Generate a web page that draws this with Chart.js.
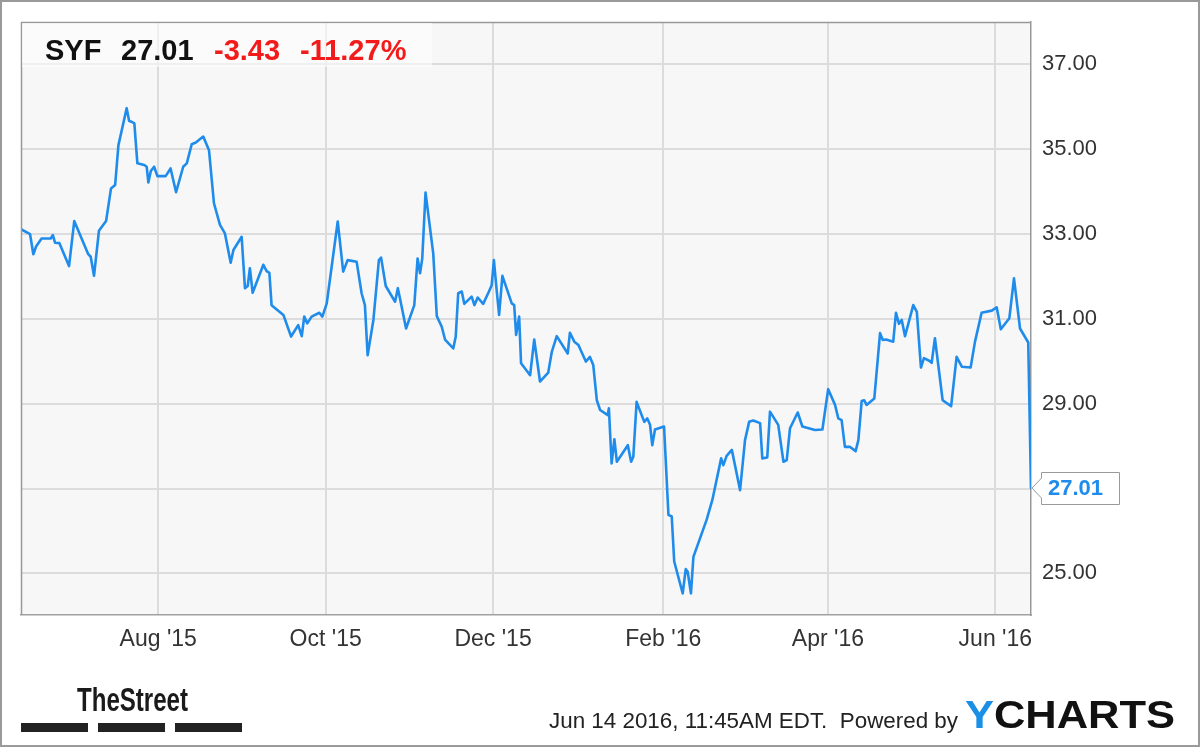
<!DOCTYPE html>
<html><head><meta charset="utf-8">
<script src="https://cdn.jsdelivr.net/npm/chart.js@4.4.0/dist/chart.umd.min.js"></script>
<style>html,body{margin:0;padding:0;background:#fff;overflow:hidden}canvas{display:block}</style>
</head><body>
<canvas id="c" width="1200" height="747"></canvas>
<script>
const ticker = 'SYF';
const lastPrice = 27.01;
const change = -3.43;
const changePct = -11.27;
const stampText = 'Jun 14 2016, 11:45AM EDT.  Powered by';
// trading-day positions, in days since 2015-06-12
const days = [0,3.3,4.5,5.5,7.5,10.8,11.6,12.4,14.0,17.5,19.4,24.5,25.4,26.6,28.4,31.0,32.8,34.3,35.5,38.5,39.4,40.3,41.3,42.4,44.9,45.8,46.4,47.3,48.5,49.7,52.7,54.5,56.5,59.1,60.4,62.2,63.7,66.4,68.5,70.3,72.5,74.3,76.4,77.4,80.4,81.6,82.6,83.4,84.4,88.3,89.5,90.5,91.3,95.6,98.4,101.0,102.3,103.2,104.3,105.9,108.7,109.8,111.4,115.4,117.4,119.0,122.3,124.1,125.3,126.3,128.4,130.4,131.2,132.9,136.3,137.3,138.2,140.3,143.3,144.5,145.4,146.2,147.4,150.2,151.5,153.3,154.5,157.5,158.4,159.3,160.6,161.5,164.2,165.2,166.4,168.4,170.5,171.5,172.3,173.3,174.2,175.4,178.8,179.7,180.4,181.5,182.2,185.5,187.0,189.1,192.1,193.4,195.2,199.2,200.0,201.6,203.1,205.8,207.3,208.5,209.8,211.0,213.8,214.2,215.2,216.2,217.1,221.1,222.3,223.1,224.3,227.1,228.2,229.2,230.0,231.0,234.3,235.9,237.1,238.0,241.1,242.2,242.9,244.1,245.0,249.8,251.9,255.1,255.9,257.1,259.0,262.0,263.8,265.3,266.8,269.3,270.1,271.9,272.9,275.9,277.8,279.0,280.2,283.0,284.7,289.3,292.0,294.1,296.6,297.8,299.0,300.2,302.1,304.1,305.1,306.3,307.2,308.1,310.9,313.0,314.0,315.2,317.8,318.8,319.9,320.9,322.1,325.1,326.4,327.9,329.0,330.9,331.8,333.0,335.8,338.9,340.9,342.8,346.0,347.6,350.0,353.7,355.5,357.0,360.1,361.8,364.0,367.0,368.0];
const prices = [33.11,32.99,32.52,32.70,32.89,32.89,32.97,32.79,32.78,32.24,33.30,32.52,32.46,32.01,33.07,33.30,34.07,34.15,35.09,35.96,35.66,35.64,35.60,34.66,34.62,34.58,34.21,34.48,34.58,34.36,34.36,34.54,33.98,34.58,34.66,35.11,35.15,35.29,34.97,33.72,33.21,33.01,32.32,32.62,32.93,31.72,31.77,32.19,31.61,32.27,32.12,32.08,31.32,31.09,30.58,30.85,30.59,31.05,30.89,31.05,31.14,31.05,31.36,33.29,32.11,32.38,32.34,31.60,31.32,30.14,30.97,32.38,32.44,31.77,31.40,31.72,31.44,30.77,31.32,32.42,32.07,32.42,33.97,32.54,31.06,30.81,30.51,30.30,30.58,31.60,31.64,31.35,31.52,31.32,31.50,31.35,31.64,31.79,32.38,31.68,31.09,32.01,31.36,31.32,30.62,31.05,29.95,29.67,30.51,29.52,29.73,30.22,30.59,30.18,30.67,30.46,30.38,29.99,30.10,29.91,29.08,28.85,28.73,28.89,27.59,28.16,27.63,28.02,27.63,27.75,29.04,28.57,28.65,28.50,28.02,28.39,28.46,26.38,26.34,25.28,24.53,25.10,25.04,24.53,25.39,26.26,26.73,27.71,27.55,27.77,27.91,26.96,28.14,28.57,28.60,28.54,27.71,27.73,28.81,28.50,27.63,27.67,28.42,28.79,28.46,28.38,28.39,29.34,28.97,28.65,28.61,27.98,27.98,27.88,28.14,29.06,29.08,28.97,29.12,30.66,30.50,30.51,30.46,31.14,30.88,30.97,30.59,31.32,31.16,29.85,30.07,30.01,29.96,30.54,29.08,28.94,30.10,29.87,29.85,30.46,31.14,31.19,31.27,30.75,31.01,31.95,30.77,30.44,27.01];
const monthTickDays = [50,111,172,234,294,355];
const monthTickLabels = ["Aug '15","Oct '15","Dec '15","Feb '16","Apr '16","Jun '16"];
const priceTicks = [25,27,29,31,33,35,37];

const FONT = "'Liberation Sans', Arial, Helvetica, sans-serif";
const LINE = '#1f8ceb';

const bgPlugin = {
  id:'bg',
  beforeDraw(chart){
    const c = chart.ctx, a = chart.chartArea;
    c.save();
    c.fillStyle = '#fff'; c.fillRect(0,0,chart.width,chart.height);
    c.fillStyle = '#f7f7f7'; c.fillRect(a.left,a.top,a.right-a.left,a.bottom-a.top);
    c.restore();
  }
};

const decorPlugin = {
  id:'decor',
  afterDraw(chart){
    const c = chart.ctx, a = chart.chartArea, ys = chart.scales.y;
    c.save();
    // plot frame left/top
    c.strokeStyle = '#999'; c.lineWidth = 1.5;
    c.beginPath();
    c.moveTo(a.left+0.5, a.bottom); c.lineTo(a.left+0.5, a.top+0.5); c.lineTo(a.right, a.top+0.5);
    c.stroke();
    // header box
    c.fillStyle = 'rgba(255,255,255,0.55)';
    c.fillRect(a.left+1, a.top+1, 410, 44);
    c.textBaseline = 'alphabetic'; c.textAlign = 'left';
    c.font = 'bold 29px ' + FONT;
    c.fillStyle = '#111';
    c.fillText(ticker, 45, 60);
    c.fillText(lastPrice.toFixed(2), 121, 60);
    c.fillStyle = '#f21b1b';
    c.fillText(change.toFixed(2), 214, 60);
    c.fillText(changePct.toFixed(2) + '%', 300, 60);
    // last price marker
    const py = ys.getPixelForValue(lastPrice);
    const bx = 1041.5, bw = 78, bh = 32, by = Math.round(py) - 16 + 0.5;
    c.beginPath();
    c.moveTo(bx, by);
    c.lineTo(bx+bw, by); c.lineTo(bx+bw, by+bh); c.lineTo(bx, by+bh);
    c.lineTo(bx, py+10); c.lineTo(a.right+1, py); c.lineTo(bx, py-10); c.closePath();
    c.fillStyle = '#fff'; c.fill();
    c.strokeStyle = '#9a9a9a'; c.lineWidth = 1; c.stroke();
    c.font = 'bold 22px ' + FONT;
    c.fillStyle = LINE; c.textBaseline = 'middle';
    c.fillText(lastPrice.toFixed(2), 1048, py+1);
    // footer: TheStreet
    c.textBaseline = 'alphabetic';
    c.fillStyle = '#1a1a1a';
    c.save();
    c.font = 'bold 34px ' + FONT;
    const tw = c.measureText('TheStreet').width;
    c.translate(77, 711); c.scale(111/tw, 1);
    c.fillText('TheStreet', 0, 0);
    c.restore();
    c.fillStyle = '#222';
    c.fillRect(21, 723, 67, 9); c.fillRect(98, 723, 67, 9); c.fillRect(175, 723, 67, 9);
    // footer stamp
    c.save();
    c.font = '22px ' + FONT; c.fillStyle = '#222'; c.textAlign = 'left';
    const sw = c.measureText(stampText).width;
    c.translate(549, 728); c.scale(409/sw, 1);
    c.fillText(stampText, 0, 0);
    c.restore();
    // YCHARTS
    c.textAlign = 'left';
    c.save();
    c.font = 'bold 39px ' + FONT;
    const w1 = c.measureText('Y').width, w2 = c.measureText('CHARTS').width;
    c.translate(965, 728); c.scale(210/(w1+w2), 1);
    c.fillStyle = '#1a8fe6'; c.fillText('Y', 0, 0);
    c.fillStyle = '#111'; c.fillText('CHARTS', w1, 0);
    c.restore();
    // outer frame
    c.strokeStyle = '#9a9a9a'; c.lineWidth = 2;
    c.strokeRect(1, 1, chart.width-2, chart.height-2);
    c.restore();
  }
};

new Chart(document.getElementById('c').getContext('2d'), {
  type: 'line',
  data: { datasets: [{
    data: days.map((d,i)=>({x:d, y:prices[i]})),
    borderColor: LINE, borderWidth: 2.6, pointRadius: 0, tension: 0, fill: false,
    borderJoinStyle: 'round', borderCapStyle: 'round'
  }]},
  options: {
    responsive: false, animation: false, devicePixelRatio: 1,
    layout: { padding: { left: 21, top: 22, right: 0, bottom: 0 } },
    plugins: { legend: { display: false }, tooltip: { enabled: false } },
    scales: {
      x: {
        type: 'linear', min: 0, max: 368,
        afterFit(s){ s.height = 132; s.paddingLeft = 0; s.paddingRight = 0; },
        afterBuildTicks(s){ s.ticks = monthTickDays.map(v=>({value:v})); },
        ticks: {
          callback(v){ const i = monthTickDays.indexOf(v); return i>=0 ? monthTickLabels[i] : ''; },
          font: { family: FONT, size: 23 }, color: '#333', padding: 11, maxRotation: 0, autoSkip: false
        },
        grid: { color: '#dcdcdc', drawTicks: false, lineWidth: 2 },
        border: { display: true, color: '#a0a0a0', width: 1.5 }
      },
      y: {
        position: 'right', min: 24.02, max: 37.99,
        afterFit(s){ s.width = 169; s.paddingTop = 0; s.paddingBottom = 0; },
        afterBuildTicks(s){ s.ticks = priceTicks.map(v=>({value:v})); },
        ticks: {
          callback(v){ return v === 27 ? '' : v.toFixed(2); },
          font: { family: FONT, size: 22 }, color: '#333', padding: 11
        },
        grid: { color: '#dcdcdc', drawTicks: false, lineWidth: 2 },
        border: { display: true, color: '#999', width: 1.5 }
      }
    }
  },
  plugins: [bgPlugin, decorPlugin]
});
</script>
</body></html>
